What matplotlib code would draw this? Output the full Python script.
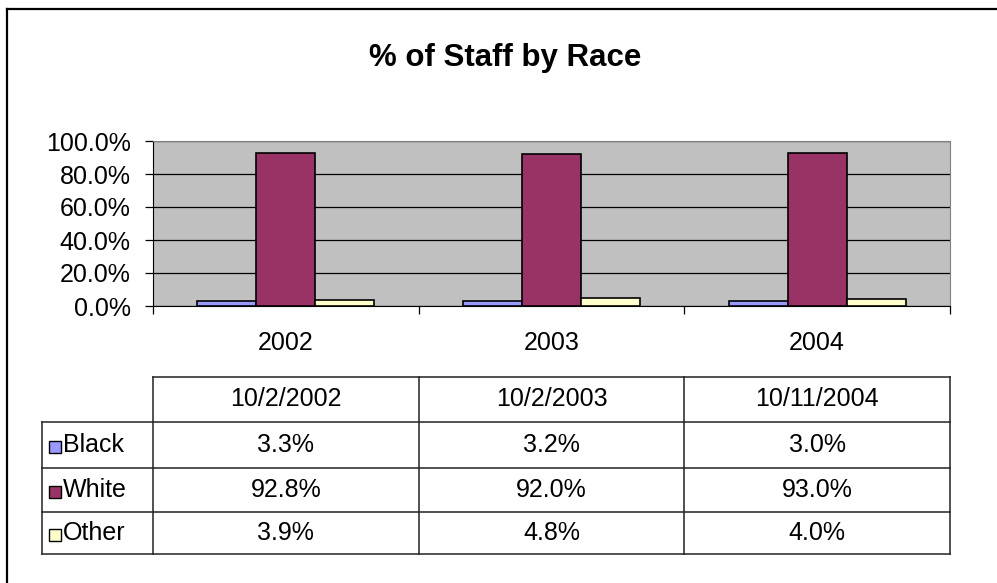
import matplotlib.pyplot as plt
import matplotlib.transforms as mtrans
from matplotlib.patches import Rectangle
from matplotlib.lines import Line2D
import numpy as np

years = ['2002', '2003', '2004']
dates = ['10/2/2002', '10/2/2003', '10/11/2004']
races = ['Black', 'White', 'Other']
black = [3.3, 3.2, 3.0]
white = [92.8, 92.0, 93.0]
other = [3.9, 4.8, 4.0]
colors = ['#9999FF', '#993366', '#FFFFCC']

plt.rcParams['font.family'] = ['Liberation Sans', 'DejaVu Sans']

W, H = 997, 583
fs = 18
fig = plt.figure(figsize=(W / 100, H / 100), dpi=100)


def fy(py):
    return 1 - py / H


# outer chart border (right/bottom edges fall outside the picture)
fig.add_artist(Line2D([7 / W, 1.01], [fy(9), fy(9)], color='black', lw=1.6, transform=fig.transFigure))
fig.add_artist(Line2D([7 / W, 7 / W], [fy(9), -0.01], color='black', lw=1.6, transform=fig.transFigure))

fig.text(505 / W, fy(58), '% of Staff by Race', ha='center', va='center',
         fontsize=22.5, fontweight='bold')

ax = fig.add_axes([153 / W, fy(306), 797 / W, 165 / H])
ax.set_facecolor('#C0C0C0')
x = np.arange(len(years))
bw = 1 / 4.5
series = [black, white, other]
for i in range(len(series)):
    ax.bar(x + (i - 1) * bw, series[i], bw, color=colors[i], edgecolor='black',
           linewidth=1.2, zorder=3)
ax.set_xlim(-0.5, 2.5)
ax.set_ylim(0, 100)
ax.set_yticks(np.arange(0, 101, 20))
ax.yaxis.set_major_formatter(lambda v, p: f'{v:.1f}%')
ax.grid(axis='y', color='black', lw=0.9)
ax.set_axisbelow(True)
ax.set_xticks([-0.5, 0.5, 1.5, 2.5])
ax.set_xticklabels([])
ax.tick_params(axis='both', direction='out', length=6, color='black', width=0.9,
               labelsize=fs, pad=10)
for s in ['top', 'right']:
    ax.spines[s].set_color('#808080')
for s in ['left', 'bottom']:
    ax.spines[s].set_color('black')

# category labels and data table below the plot
tr_d = mtrans.blended_transform_factory(ax.transData, fig.transFigure)
tr_a = mtrans.blended_transform_factory(ax.transAxes, fig.transFigure)
for i in range(len(years)):
    ax.text(x[i], fy(343), years[i], transform=tr_d, ha='center', va='center', fontsize=fs)

rows = [377, 422, 468, 512, 554]
left = -111 / 797
lc = '#222222'
ax.add_line(Line2D([0, 1], [fy(rows[0])] * 2, transform=tr_a, color=lc, lw=1.1, clip_on=False))
for r in rows[1:]:
    ax.add_line(Line2D([left, 1], [fy(r)] * 2, transform=tr_a, color=lc, lw=1.1, clip_on=False))
ax.add_line(Line2D([left, left], [fy(rows[1]), fy(rows[-1])], transform=tr_a, color=lc, lw=1.1, clip_on=False))
for c in [0, 1 / 3, 2 / 3, 1]:
    ax.add_line(Line2D([c, c], [fy(rows[0]), fy(rows[-1])], transform=tr_a, color=lc, lw=1.1, clip_on=False))

for i in range(len(dates)):
    ax.text(x[i], fy((rows[0] + rows[1]) / 2), dates[i], transform=tr_d,
            ha='center', va='center', fontsize=fs)
for j in range(len(races)):
    yc = (rows[j + 1] + rows[j + 2]) / 2
    fig.add_artist(Rectangle((49 / W, fy(yc + 8)), 12 / W, 12 / H, facecolor=colors[j],
                             edgecolor='black', lw=1.0, transform=fig.transFigure))
    fig.text(63 / W, fy(yc), races[j], ha='left', va='center', fontsize=fs)
    for i in range(len(years)):
        ax.text(x[i], fy(yc), f'{series[j][i]:.1f}%', transform=tr_d,
                ha='center', va='center', fontsize=fs)

fig.savefig('out.png', dpi=100)
